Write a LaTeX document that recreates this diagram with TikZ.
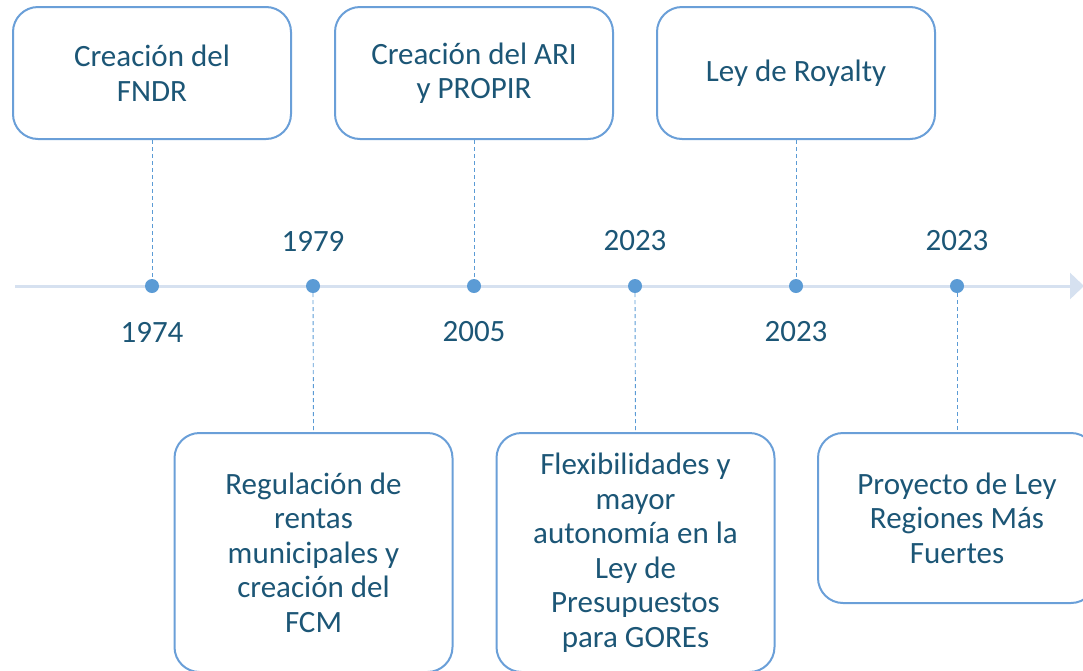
\documentclass[tikz,border=0pt]{standalone}
\usepackage{fontspec}
\setmainfont{Carlito}
\usetikzlibrary{arrows.meta}
\definecolor{txt}{HTML}{1C5676}
\definecolor{boxc}{HTML}{6A9FD8}
\definecolor{dotc}{HTML}{5B9BD5}
\definecolor{linec}{HTML}{D6E1F0}
\tikzset{
  evbox/.style={draw=boxc, line width=2pt, rounded corners=25pt, fill=white,
    minimum width=278pt, inner sep=0pt, align=center, text=txt,
    font=\fontsize{31}{34.5}\selectfont},
  evdot/.style={circle, fill=dotc, minimum size=14pt, inner sep=0pt},
  year/.style={text=txt, font=\fontsize{31}{34}\selectfont},
  link/.style={draw=dotc, line width=0.9pt, dash pattern=on 4pt off 3pt},
  axis/.style={draw=linec, line width=3pt, -{Triangle[width=26pt,length=14pt]}}
}
\begin{document}
\begin{tikzpicture}[x=1pt,y=-1pt]
\useasboundingbox (0,0) rectangle (1083,670);
\clip (0,0) rectangle (1083,670);
\coordinate (start) at (15,286);
\coordinate (end) at (1084,286);
\draw[axis] (start) -- (end);
% dots
\node[evdot] (d1) at (152,286) {};
\node[evdot] (d2) at (313,286) {};
\node[evdot] (d3) at (474,286) {};
\node[evdot] (d4) at (635,286) {};
\node[evdot] (d5) at (796,286) {};
\node[evdot] (d6) at (957,286) {};
% boxes
\node[evbox, minimum height=132pt] (b1) at (152,73) {Creación del\\FNDR};
\node[evbox, minimum height=132pt] (b3) at (474,73) {Creación del ARI\\y PROPIR};
\node[evbox, minimum height=132pt] (b5) at (796,73) {Ley de Royalty};
\node[evbox, minimum height=239pt] (b2) at (313.5,552.5) {Regulación de\\rentas\\municipales y\\creación del\\FCM};
\node[evbox, minimum height=239pt] (b4) at (635.5,552.5) {Flexibilidades y\\mayor\\autonomía en la\\Ley de\\Presupuestos\\para GOREs};
\node[evbox, minimum height=170pt] (b6) at (957,518) {Proyecto de Ley\\Regiones Más\\Fuertes};
% links
\draw[link] (b1.south) -- (d1.north);
\draw[link] (b3.south) -- (d3.north);
\draw[link] (b5.south) -- (d5.north);
\draw[link] (d2.south) -- (b2.north);
\draw[link] (d4.south) -- (b4.north);
\draw[link] (d6.south) -- (b6.north);
% years
\node[year] (y1) at (152,332) {1974};
\node[year] (y2) at (313,241) {1979};
\node[year] (y3) at (474,332) {2005};
\node[year] (y4) at (635,241) {2023};
\node[year] (y5) at (796,332) {2023};
\node[year] (y6) at (957,241) {2023};
\end{tikzpicture}
\end{document}
